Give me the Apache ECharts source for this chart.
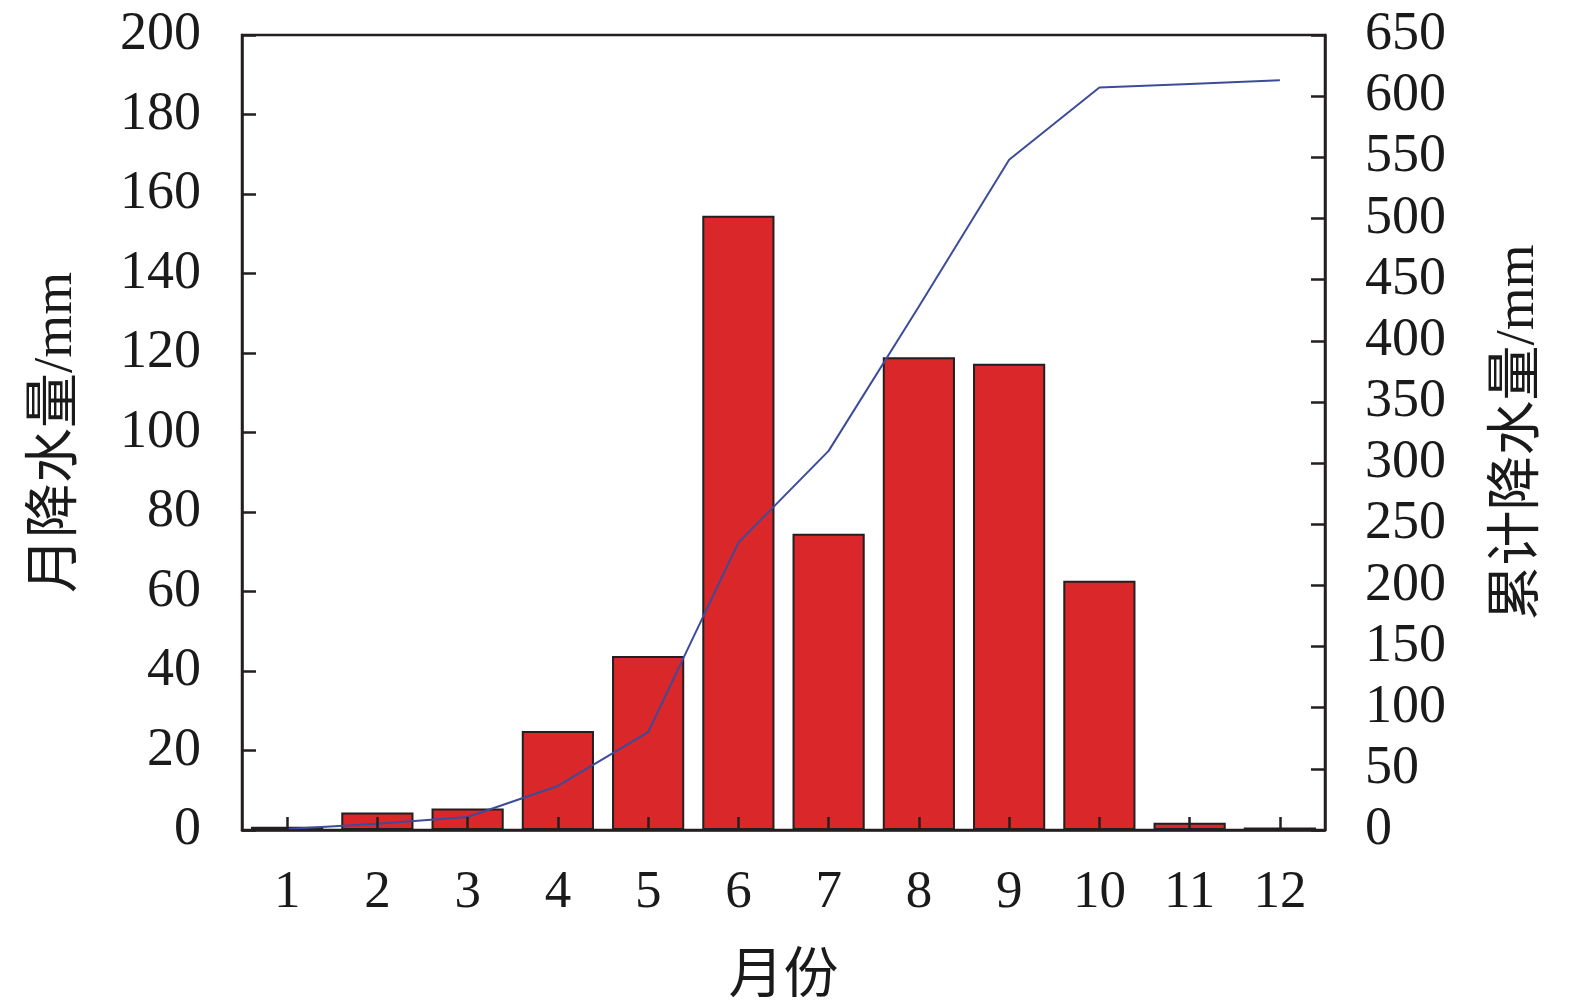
<!DOCTYPE html>
<html>
<head>
<meta charset="utf-8">
<script src="https://cdn.jsdelivr.net/npm/echarts@6/dist/echarts.min.js"></script>
<style>html,body{margin:0;padding:0;background:#fff;}#c{width:1575px;height:1004px;}</style>
</head>
<body>
<div id="c"></div>
<script>
const months = ['1','2','3','4','5','6','7','8','9','10','11','12'];
const monthlyRain = [0.8, 4.4, 5.4, 24.9, 43.8, 154.5, 74.5, 118.9, 117.3, 62.7, 1.8, 0.6];
const cumulativeRain = [0.8, 5.2, 10.6, 36, 80, 235, 310, 428, 548, 607, 610, 613];
const leftTicks = {min: 0, max: 200, interval: 20};
const rightTicks = {min: 0, max: 650, interval: 50};

const txt = '#1a1a1a';
const serif = '"Liberation Serif","DejaVu Serif",serif';
const cjk = '"Liberation Serif","Noto Sans CJK SC",serif';
const axisLineStyle = {color: '#231f20', width: 2.5};

const chart = echarts.init(document.getElementById('c'), null, {renderer: 'canvas'});
chart.setOption({
  animation: false,
  backgroundColor: '#fff',
  grid: {left: 242, right: 250, top: 35, bottom: 174, show: true, borderColor: '#231f20', borderWidth: 2.5,
         containLabel: false, outerBoundsMode: 'none'},
  xAxis: {
    type: 'category',
    data: months,
    boundaryGap: true,
    z: 10,
    name: '月份',
    nameLocation: 'middle',
    nameGap: 120,
    nameTextStyle: {fontFamily: cjk, fontSize: 55, color: txt},
    axisLine: {lineStyle: axisLineStyle},
    axisTick: {show: true, interval: 0, inside: true, alignWithLabel: true, length: 13, lineStyle: {color: '#231f20', width: 2.5}},
    axisLabel: {fontFamily: serif, fontSize: 53, color: txt, margin: 37, interval: 0}
  },
  yAxis: [{
    type: 'value',
    z: 10,
    min: leftTicks.min, max: leftTicks.max, interval: leftTicks.interval,
    name: '月降水量/mm',
    nameLocation: 'middle',
    nameRotate: 90,
    nameGap: 158,
    nameTextStyle: {fontFamily: cjk, fontSize: 55, color: txt},
    axisLine: {show: true, lineStyle: axisLineStyle},
    axisTick: {show: true, inside: true, length: 14, lineStyle: {color: '#231f20', width: 2.5}},
    axisLabel: {fontFamily: serif, fontSize: 54, color: txt, margin: 41},
    splitLine: {show: false}
  }, {
    type: 'value',
    position: 'right',
    z: 10,
    min: rightTicks.min, max: rightTicks.max, interval: rightTicks.interval,
    name: '累计降水量/mm',
    nameLocation: 'middle',
    nameRotate: 90,
    nameGap: 166,
    nameTextStyle: {fontFamily: cjk, fontSize: 55, color: txt},
    axisLine: {show: true, lineStyle: axisLineStyle},
    axisTick: {show: true, inside: true, length: 14, lineStyle: {color: '#231f20', width: 2.5}},
    axisLabel: {fontFamily: serif, fontSize: 54, color: txt, margin: 40},
    splitLine: {show: false}
  }],
  series: [{
    type: 'bar',
    data: monthlyRain,
    yAxisIndex: 0,
    z: 1,
    barCategoryGap: '20%',
    itemStyle: {color: '#d9272a', borderColor: '#231f20', borderWidth: 2}
  }, {
    type: 'line',
    data: cumulativeRain,
    yAxisIndex: 1,
    symbol: 'none',
    lineStyle: {color: '#3c4c9a', width: 2},
    z: 3
  }]
});
</script>
</body>
</html>
